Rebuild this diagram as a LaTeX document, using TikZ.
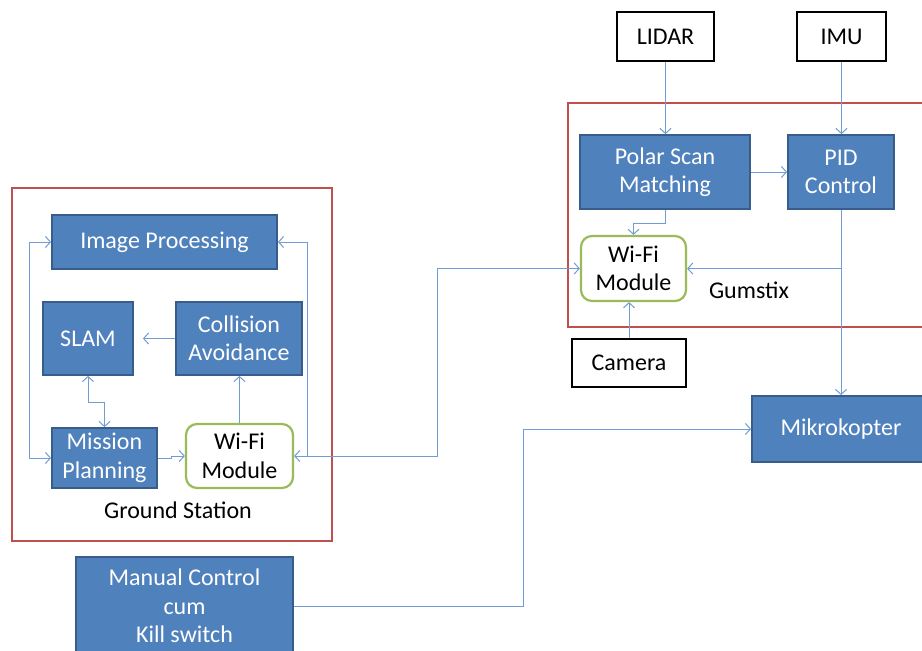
\documentclass[tikz,border=0pt]{standalone}
\usepackage{fontspec}
\setmainfont{Carlito}
\usetikzlibrary{arrows.meta}
\definecolor{blu}{RGB}{79,129,189}
\definecolor{bdr}{RGB}{56,93,138}
\definecolor{lnc}{RGB}{115,155,212}
\definecolor{redc}{RGB}{192,80,77}
\definecolor{grn}{RGB}{155,187,89}
\tikzset{
  basefont/.style={font=\fontsize{24pt}{28.5pt}\selectfont},
  blk/.style={basefont, draw=bdr, fill=blu, line width=1.8pt, text=white, align=center, inner sep=0pt},
  wbox/.style={basefont, draw=black, line width=2.5pt, align=center, inner sep=0pt},
  wifi/.style={basefont, draw=grn, line width=2.2pt, rounded corners=11pt, fill=white, align=center, inner sep=0pt},
  grp/.style={draw=redc, line width=2.2pt},
  con/.style={draw=lnc, line width=1pt},
  tip/.tip={Straight Barb[length=5pt,width=11pt,line width=1pt]},
  arr/.style={con, -tip},
  barr/.style={con, tip-tip},
  lbl/.style={basefont, text=black, inner sep=0pt}
}
\begin{document}
\begin{tikzpicture}[x=1pt,y=-1pt]
\useasboundingbox (0,0) rectangle (922,651);
% group boxes
\draw[grp] (12,188) rectangle (332,541);
\draw[grp] (568,103) rectangle (940,327);
% ground station
\node[blk, minimum width=225, minimum height=54] (imgproc) at (164.5,242) {Image Processing};
\node[blk, minimum width=90, minimum height=73] (slam) at (88,338.5) {SLAM};
\node[blk, minimum width=126, minimum height=73] (coll) at (239,338.5) {Collision\\Avoidance};
\node[blk, minimum width=105, minimum height=60] (mp) at (104.5,458) {Mission\\Planning};
\node[wifi, minimum width=107, minimum height=64] (wifigs) at (239.5,456) {Wi-Fi\\Module};
\node[lbl] (gslbl) at (178,510) {Ground Station};
% gumstix side
\node[wbox, minimum width=97, minimum height=49] (lidar) at (665.5,36.5) {LIDAR};
\node[wbox, minimum width=89, minimum height=49] (imu) at (841.5,36.5) {IMU};
\node[blk, minimum width=170, minimum height=74] (psm) at (665,172) {Polar Scan\\Matching};
\node[blk, minimum width=106, minimum height=74] (pid) at (841,172) {PID\\Control};
\node[wifi, minimum width=105, minimum height=65] (gumwifi) at (633.5,268.5) {Wi-Fi\\Module};
\node[lbl] (gumlbl) at (749,290) {Gumstix};
\node[wbox, minimum width=114, minimum height=48] (camera) at (629,363) {Camera};
\node[blk, minimum width=178, minimum height=66] (mk) at (841,429) {Mikrokopter};
\node[blk, minimum width=217, minimum height=98] (mc) at (184.5,606) {Manual Control\\cum\\Kill switch};
% connectors ground station
\draw[barr] (imgproc.west) -- ++(-22,0) |- (mp.west);
\coordinate (jr) at (307,456);
\draw[arr] (jr) |- (imgproc.east);
\coordinate (jm) at (437,456);
\draw[barr] (wifigs.east) -- (jm) |- (gumwifi.west);
\draw[barr] (slam.south) -- ++(0,27) -| (mp.north);
\draw[arr, shorten >=9pt] (coll.west) -- (slam.east);
\draw[arr] (wifigs.north) -- (wifigs.north |- coll.south);
\draw[arr] (mp.east) -- ++(14,0) |- (wifigs.west);
% connectors gumstix
\draw[arr] (lidar.south) -- (lidar.south |- psm.north);
\draw[arr] (imu.south) -- (imu.south |- pid.north);
\draw[arr] (psm.east) -- (pid.west);
\draw[arr] (psm.south) -- ++(0,14) -| (gumwifi.north);
\draw[arr] (pid.south) -- (pid.south |- mk.north);
\coordinate (jp) at (pid.south |- gumwifi.east);
\draw[arr] (jp) -- (gumwifi.east);
\draw[arr] (camera.north) -- (camera.north |- gumwifi.south);
\coordinate (jk) at (523,606);
\draw[arr] (mc.east) -- (jk) |- (mk.west);
\end{tikzpicture}
\end{document}
